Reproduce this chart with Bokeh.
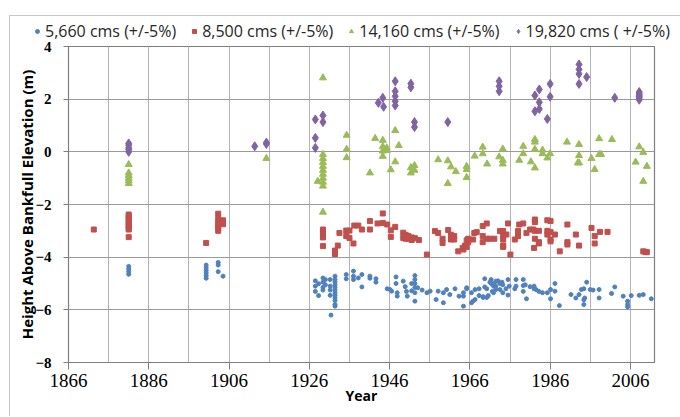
from bokeh.plotting import figure
from bokeh.models import Legend, LegendItem, FixedTicker, Range1d
from bokeh.embed import file_html
from bokeh.resources import INLINE

# ---- data ----
x_ticks = [1866, 1886, 1906, 1926, 1946, 1966, 1986, 2006]
y_ticks = [-8, -6, -4, -2, 0, 2, 4]

blue_year = [1881, 1881, 1881, 1881,
             1900.3, 1900.3, 1900.3, 1900.3, 1900.3, 1900.3,
             1903.3, 1903.3, 1903.3, 1904.5,
             1927.5, 1927.5, 1927.5, 1928.3, 1928.3,
             1929.4, 1929.4, 1929.4, 1929.4, 1930, 1930,
             1931.2, 1931.2, 1931.2, 1931.2, 1931.4,
             1932.4, 1932.4, 1932.4, 1932.4, 1932.4, 1932.4, 1932.4, 1932.4, 1932.4, 1932.4, 1932.4, 1932.4,
             1935.2, 1935.2, 1937, 1937, 1937, 1938.2, 1939.1, 1939.1,
             1941.1, 1941.1, 1942.6, 1942.6,
             1945.4, 1946.1, 1946.5, 1947.6, 1947.6, 1947.9, 1947.9,
             1949.4, 1949.9, 1950.2, 1950.4, 1951.5, 1951.5,
             1952.3, 1952.3, 1952.3, 1952.3, 1952.3, 1952.3,
             1953, 1954.1, 1955.3, 1956.1, 1957.6, 1958.1, 1959.4, 1959.4,
             1960.2, 1961, 1962.3, 1963.3, 1964.4, 1964.4, 1964.4,
             1965.2, 1965.2, 1966.4, 1966.4, 1966.8, 1967.3, 1967.3,
             1968.3, 1968.3, 1969.3, 1969.3, 1969.7, 1969.7, 1970.2, 1970.2, 1970.6,
             1971, 1971.3, 1971.3, 1971.6, 1971.9, 1971.9, 1972, 1972.5, 1972.5, 1972.5,
             1973, 1973.5, 1973.5, 1974, 1974.2, 1974.2, 1975, 1975.5, 1975.5, 1975.8,
             1977.2, 1977.5, 1977.5, 1979.3, 1979.3, 1979.3, 1979.8, 1980.1,
             1981, 1982, 1982, 1982.5, 1983.2, 1984.1, 1985.3, 1986.1, 1986.1,
             1987.2, 1987.2, 1988.3, 1991.2, 1992.4, 1993.2, 1993.8, 1994.4, 1994.4, 1994.4, 1994.6,
             1995.1, 1996, 1996.7, 1998.2, 1998.2, 2001.3, 2002.1, 2004.2,
             2005.3, 2005.3, 2005.3, 2006.2, 2008.2, 2009.2, 2011.2]
blue_height = [-4.35, -4.45, -4.55, -4.65,
               -4.3, -4.4, -4.5, -4.6, -4.7, -4.8,
               -4.2, -4.3, -4.55, -4.72,
               -4.9, -5.1, -5.3, -5.01, -5.46,
               -4.79, -4.95, -5.15, -5.25, -4.85, -5.05,
               -4.85, -5.1, -5.25, -5.45, -6.2,
               -4.72, -4.85, -4.95, -5.05, -5.15, -5.25, -5.35, -5.45, -5.55, -5.65, -5.8, -5.86,
               -4.66, -4.82, -4.53, -4.72, -4.85, -4.79, -4.66, -5.13,
               -4.72, -4.8, -4.82, -4.95,
               -5.2, -5.23, -5.29, -4.75, -5.0, -5.35, -5.48,
               -4.91, -5.12, -5.3, -5.48, -5.0, -5.28,
               -4.7, -4.85, -5.0, -5.15, -5.35, -5.67,
               -5.16, -5.25, -5.35, -5.29, -5.61, -5.29, -5.35, -5.73,
               -5.23, -5.42, -5.2, -5.48, -5.35, -5.48, -5.86,
               -5.16, -5.2, -5.35, -5.73, -5.67, -5.61, -5.23,
               -5.2, -5.46, -5.53, -5.5, -4.82, -5.13, -5.2, -5.53, -5.46,
               -4.95, -4.85, -5.0, -5.3, -5.1, -5.35, -5.0, -4.91, -5.1, -5.23,
               -4.9, -5.0, -5.23, -4.95, -5.05, -5.35, -5.2, -4.85, -5.44, -5.1,
               -5.2, -4.85, -5.1, -4.85, -5.08, -5.3, -5.05, -5.58,
               -5.12, -5.1, -5.2, -5.23, -5.3, -5.35, -5.35, -5.23, -5.58,
               -5.0, -5.29, -5.84, -5.42, -5.55, -5.42, -5.23, -5.2, -5.62, -5.8, -5.55,
               -4.95, -5.23, -5.25, -5.23, -5.55, -5.38, -5.13, -5.48,
               -5.67, -5.8, -5.89, -5.46, -5.45, -5.42, -5.58]

red_year = [1872.3,
            1881, 1881, 1881, 1881, 1881, 1881, 1881, 1881, 1881, 1881,
            1900.3, 1903.3, 1903.3, 1903.3, 1903.3, 1903.3, 1903.3, 1904.5, 1904.5,
            1929.4, 1929.4, 1929.4, 1929.4, 1929.4, 1932.4, 1932.4, 1933.1, 1933.5,
            1935.2, 1935.2, 1936, 1936, 1937, 1937.2, 1938.2, 1939.1,
            1941.1, 1941.1, 1943, 1944.3, 1944.3, 1945.4, 1946.3, 1946.3, 1947.4,
            1949.4, 1949.4, 1950, 1950, 1950.7, 1950.7, 1951.5, 1951.5, 1952.3, 1953.3,
            1955.3, 1957.3, 1958.1, 1959.2, 1959.2, 1960.6, 1961.3, 1961.3, 1962.1, 1962.1,
            1963.1, 1964.2, 1964.4, 1964.8, 1965.2, 1965.2, 1965.6, 1965.6, 1966.8, 1967.1, 1967.7,
            1969.2, 1969.2, 1969.2, 1970.2, 1970.2, 1971, 1972.1,
            1973.5, 1974.3, 1974.3, 1974.3, 1974.3, 1974.3, 1975.1, 1975.5, 1976.1, 1977.2,
            1978, 1978, 1978.3, 1979.3, 1980.1, 1981, 1981.8, 1982,
            1982.2, 1982.2, 1982.2, 1982.2, 1983.2, 1983.2, 1983.2,
            1985.3, 1985.3, 1985.3, 1986.1, 1986.1, 1986.1, 1986.1, 1987.2, 1988.4,
            1990.3, 1990.3, 1990.3, 1992.4, 1993.2, 1996.3, 1997.1, 1997.1, 1998.4, 2000.3,
            2009.2, 2009.7, 2010.1]
red_height = [-2.95,
              -2.38, -2.45, -2.52, -2.6, -2.68, -2.75, -2.82, -2.9, -2.95, -3.24,
              -3.46, -2.35, -2.55, -2.7, -2.8, -2.9, -3.0, -2.6, -2.75,
              -2.95, -3.05, -3.15, -3.25, -3.58, -3.75, -3.88, -3.56, -3.08,
              -2.99, -3.2, -2.99, -3.27, -3.48, -2.8, -2.8, -2.95,
              -2.63, -2.95, -2.72, -2.34, -2.7, -2.76, -2.98, -3.23, -2.85,
              -3.07, -3.27, -3.15, -3.3, -3.2, -3.3, -3.25, -3.35, -3.28, -3.35,
              -3.9, -3.01, -3.08, -3.3, -3.46, -2.97, -3.15, -3.33, -3.2, -3.33,
              -3.78, -3.65, -3.71, -3.56, -3.36, -3.61, -3.3, -3.43, -3.33, -3.08, -3.05,
              -2.82, -3.2, -3.43, -2.72, -3.3, -3.3, -3.3,
              -3.01, -3.01, -3.2, -3.33, -3.56, -3.61, -3.14, -2.72, -3.9, -3.33,
              -3.01, -3.2, -2.76, -2.72, -3.08, -2.95, -2.95, -3.65,
              -2.57, -2.67, -3.0, -3.3, -3.0, -3.43, -3.48,
              -2.6, -3.0, -3.14, -2.63, -3.05, -3.33, -3.4, -3.14, -3.78,
              -2.76, -3.43, -3.52, -3.14, -3.56, -2.89, -3.2, -3.48, -3.04, -3.04,
              -3.78, -3.8, -3.81]

green_year = [1881, 1881, 1881, 1881, 1881, 1881,
              1915.3, 1928.1,
              1929.4, 1929.4, 1929.4, 1929.4, 1929.4, 1929.4, 1929.4, 1929.4, 1929.4, 1929.4, 1929.4,
              1935.3, 1935.3, 1935.3, 1941.1, 1942.4,
              1944.3, 1944.3, 1944.3, 1944.3, 1945.3, 1945.3, 1946.3, 1947.4, 1947.4, 1948.3,
              1951.3, 1951.3, 1952.2, 1952.2, 1958.1, 1960.5, 1960.5, 1961.3, 1962.5,
              1965.2, 1965.2, 1965.2, 1967.2, 1969.2, 1969.2, 1970.3,
              1973.3, 1974.2, 1974.2, 1974.2, 1978.3, 1979.3, 1979.3, 1981.2,
              1982.2, 1982.2, 1982.2, 1982.2, 1984.1, 1984.1, 1985.3, 1986,
              1990.2, 1993.2, 1993.2, 1993.2, 1992.9, 1996.3, 1997.1, 1998.2, 1998.2, 1998.7,
              2001.4, 2007.3, 2008.2, 2009.2, 2009.2, 2010.1]
green_height = [-0.48, -0.8, -0.9, -1.0, -1.1, -1.2,
                -0.25, -1.12,
                2.81, -0.1, -0.25, -0.4, -0.55, -0.7, -0.85, -1.0, -1.15, -1.3, -2.29,
                0.63, 0.1, -0.22, -0.8, 0.51,
                0.44, 0.2, 0.03, -0.17, 0.15, 0.05, -0.68, 0.81, -0.38, 0.24,
                -0.6, -0.8, -0.52, -0.7, -0.3, -0.34, -1.2, -0.57, -0.75,
                -0.55, -0.67, -0.97, -0.16, 0.18, -0.07, -0.46,
                -0.19, 0.11, -0.32, -0.46, -0.32, 0.21, -0.07, -0.38,
                0.47, 0.37, 0.1, -0.61, 0.07, -0.07, -0.23, -0.07,
                0.37, 0.28, -0.14, -0.42, -0.42, -0.25, -0.67, 0.5, -0.1, -0.1,
                0.47, -0.39, 0.19, -0.02, -1.12, -0.55]

purple_year = [1881, 1881, 1881, 1881, 1881,
               1912.4, 1915.3, 1915.3,
               1927.5, 1927.5, 1927.5, 1929.4, 1929.4,
               1943.2, 1944.3, 1944.5,
               1947.4, 1947.4, 1947.4, 1947.4, 1947.4,
               1951.3, 1951.3, 1952.2, 1952.2, 1960.5,
               1973.3, 1973.3, 1973.3, 1982.2, 1982.2, 1983.3, 1983.3, 1983.3, 1985.3, 1986, 1986,
               1993.2, 1993.2, 1993.2, 1993.2, 1995.1, 2002.1,
               2008.2, 2008.2, 2008.2, 2008.2, 2008.2, 2008.2]
purple_height = [0.32, 0.25, 0.15, 0.08, 0.0,
                 0.21, 0.3, 0.35,
                 1.23, 0.53, 0.15, 1.38, 1.13,
                 1.86, 2.05, 1.71,
                 2.68, 2.3, 2.11, 1.92, 1.76,
                 2.59, 2.45, 1.13, 0.94, 1.13,
                 2.68, 2.49, 2.3, 2.14, 1.54, 2.37, 1.88, 1.63, 1.25, 2.58, 2.09,
                 3.32, 3.13, 2.96, 2.58, 2.84, 2.05,
                 2.27, 2.2, 2.15, 2.1, 2.05, 1.98]

series_labels = ["5,660 cms (+/-5%)", "8,500 cms (+/-5%)",
                 "14,160 cms (+/-5%)", "19,820 cms ( +/-5%)"]
series_colors = ["#4F81BD", "#C0504D", "#9BBB59", "#8064A2"]
series_markers = ["circle", "square", "triangle", "diamond"]
series_sizes = [4, 5, 7, 9]
series_x = [blue_year, red_year, green_year, purple_year]
series_y = [blue_height, red_height, green_height, purple_height]

# ---- legend strip (separate root above the plot) ----
lg = figure(width=671, height=25, output_backend="svg", toolbar_location=None,
            x_axis_type=None, y_axis_type=None,
            x_range=Range1d(1866, 2012), y_range=Range1d(10, 11),
            min_border_left=0, min_border_right=0, min_border_top=0, min_border_bottom=0)
lg.margin = (15, 0, 0, 9)
lg.styles = {"border-left": "1px solid #c8c8c8", "border-top": "1px solid #c8c8c8"}
lg.outline_line_color = None
lg.xgrid.visible = False
lg.ygrid.visible = False
items = []
for xs, ys, lab, m, s, c in zip(series_x, series_y, series_labels, series_markers,
                                series_sizes, series_colors):
    r = lg.scatter(xs, ys, marker=m, size=s, fill_color=c, line_color=c)
    items.append(LegendItem(label=lab, renderers=[r]))

legend = Legend(items=items, orientation="horizontal", location=(22, -1),
                padding=0, margin=0, spacing=13, glyph_width=10, glyph_height=14,
                label_standoff=3, label_height=16,
                label_text_font="Open Sans", label_text_font_size="16px",
                label_text_color="#262626",
                border_line_alpha=0, background_fill_alpha=0)
lg.add_layout(legend, "center")

# ---- main figure ----
p = figure(width=671, height=376, output_backend="svg", toolbar_location=None,
           x_range=Range1d(1866, 2012), y_range=Range1d(-8, 4),
           min_border_left=58, min_border_top=6, min_border_right=27, min_border_bottom=54)
p.margin = (0, 0, 0, 9)
p.styles = {"border-left": "1px solid #c8c8c8"}
p.background_fill_color = "white"
p.border_fill_color = "white"
p.outline_line_color = "#7f7f7f"
p.outline_line_width = 1.2

p.xaxis.ticker = FixedTicker(ticks=x_ticks)
p.yaxis.ticker = FixedTicker(ticks=y_ticks)
p.xgrid.ticker = FixedTicker(ticks=list(range(1866, 2012, 10)))
p.ygrid.ticker = FixedTicker(ticks=y_ticks)
p.xgrid.grid_line_color = "#b4b4b4"
p.ygrid.grid_line_color = "#9a9a9a"

for ax in (p.xaxis[0], p.yaxis[0]):
    ax.axis_line_color = "#7f7f7f"
    ax.major_tick_line_color = "#7f7f7f"
    ax.minor_tick_line_color = None
    ax.major_tick_in = 0
    ax.major_label_text_color = "black"
    ax.axis_label_text_color = "black"

p.xaxis.major_tick_out = 7
p.xaxis.major_label_standoff = 4
p.xaxis.major_label_text_font = "Liberation Serif"
p.xaxis.major_label_text_font_size = "19px"
p.xaxis.axis_label = "Year"
p.xaxis.axis_label_text_font = "Open Sans"
p.xaxis.axis_label_text_font_style = "bold"
p.xaxis.axis_label_text_font_size = "14px"
p.xaxis.axis_label_standoff = -4

p.yaxis.major_tick_out = 5
p.yaxis.major_label_standoff = 12
p.yaxis.major_label_text_font = "Liberation Serif"
p.yaxis.major_label_text_font_style = "bold"
p.yaxis.major_label_text_font_size = "15px"
p.yaxis.axis_label = "Height Above Bankfull Elevation (m)"
p.yaxis.axis_label_text_font = "Open Sans"
p.yaxis.axis_label_text_font_style = "bold"
p.yaxis.axis_label_text_font_size = "15px"
p.yaxis.axis_label_standoff = -5

for xs, ys, m, s, c in zip(series_x, series_y, series_markers, series_sizes, series_colors):
    p.scatter(xs, ys, marker=m, size=s, fill_color=c, line_color=c)

open("out.html", "w").write(file_html([lg, p], INLINE))
